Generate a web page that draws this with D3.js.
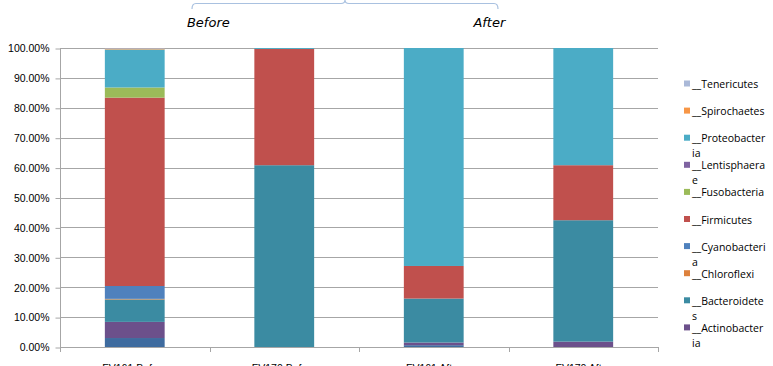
<!DOCTYPE html>
<html>
<head>
<meta charset="utf-8">
<script src="https://cdn.jsdelivr.net/npm/d3@7"></script>
<style>
  body { margin: 0; background: #fff; }
  svg { display: block; }
</style>
</head>
<body>
<div id="chart"></div>
<script>
// samples on the x axis
const samples = ['FV161 Before', 'FV170 Before', 'FV161 After', 'FV170 After'];

// phyla, bottom of the stack first
const phyla = ['__Acidobacteria', '__Actinobacteria', '__Bacteroidetes', '__Chloroflexi', '__Cyanobacteria',
  '__Firmicutes', '__Fusobacteria', '__Lentisphaerae', '__Proteobacteria', '__Spirochaetes', '__Tenericutes'];

// percent per sample (same order as samples)
const acidobacteria  = [3.0, 0, 0.6, 0];
const actinobacteria = [5.4, 0, 0.9, 1.8];
const bacteroidetes  = [7.5, 60.8, 14.7, 40.6];
const chloroflexi    = [0.2, 0, 0, 0];
const cyanobacteria  = [4.3, 0, 0, 0];
const firmicutes     = [63.0, 38.9, 10.9, 18.4];
const fusobacteria   = [3.4, 0, 0, 0];
const lentisphaerae  = [0, 0, 0, 0];
const proteobacteria = [12.7, 0.3, 72.9, 39.2];
const spirochaetes   = [0.3, 0, 0, 0];
const tenericutes    = [0.2, 0, 0, 0];

const seriesValues = [acidobacteria, actinobacteria, bacteroidetes, chloroflexi, cyanobacteria,
  firmicutes, fusobacteria, lentisphaerae, proteobacteria, spirochaetes, tenericutes];

const colors = ['#3e6b9f', '#6c508b', '#3b8ba2', '#dd813c', '#4f81bd',
  '#c0504d', '#9bbb59', '#7f63a1', '#4bacc6', '#f79646', '#aab9d8'];

const yTicks = [0, 10, 20, 30, 40, 50, 60, 70, 80, 90, 100];

// groups shown over the plot
const groups = ['Before', 'After'];

// build table for d3.stack
const table = samples.map((s, i) => {
  const row = { sample: s };
  phyla.forEach((p, j) => { row[p] = seriesValues[j][i]; });
  return row;
});

const W = 773, H = 366;
const svg = d3.select('#chart').append('svg')
  .attr('width', W)
  .attr('height', H);

const x = d3.scaleBand()
  .domain(samples)
  .range([60, 658])
  .paddingInner(0.6)
  .paddingOuter(0.3);

const y = d3.scaleLinear()
  .domain([0, 100])
  .range([347, 48]);

// gridlines
svg.append('g')
  .selectAll('line')
  .data(yTicks.slice(1))
  .enter().append('line')
  .attr('x1', 60)
  .attr('x2', 658)
  .attr('y1', d => Math.round(y(d)) + 0.5)
  .attr('y2', d => Math.round(y(d)) + 0.5)
  .style('stroke', '#a6a6a6');

// left axis
const yAxis = svg.append('g')
  .attr('transform', 'translate(60.5,0.5)')
  .call(d3.axisLeft(y).tickValues(yTicks).tickSize(5).tickPadding(6).tickFormat(d => d.toFixed(2) + '%'));
yAxis.select('.domain').attr('d', `M0,${y(0)}V${y(100)}`).style('stroke', '#a6a6a6');
yAxis.selectAll('.tick line').style('stroke', '#a6a6a6');
yAxis.selectAll('text')
  .style('font-family', '"Liberation Sans", Arial, sans-serif')
  .style('font-size', '10.5px')
  .style('fill', '#000');

// stacked bars
const stack = d3.stack().keys(phyla);
const layers = stack(table);

svg.append('g')
  .selectAll('g')
  .data(layers)
  .enter().append('g')
  .style('fill', (d, i) => colors[i])
  .selectAll('rect')
  .data(d => d)
  .enter().append('rect')
  .attr('x', d => x(d.data.sample))
  .attr('width', x.bandwidth())
  .attr('y', d => y(d[1]))
  .attr('height', d => y(d[0]) - y(d[1]));

// bottom axis with ticks between categories
const bounds = samples.map(s => x(s) - x.step() * x.paddingInner() / 2).concat([658]);
bounds[0] = 60;
const xAxis = svg.append('g');
xAxis.append('line')
  .attr('x1', 60).attr('x2', 658)
  .attr('y1', 347.5).attr('y2', 347.5)
  .style('stroke', '#a6a6a6');
xAxis.selectAll('.xt')
  .data(bounds)
  .enter().append('line')
  .attr('x1', d => Math.round(d) + 0.5)
  .attr('x2', d => Math.round(d) + 0.5)
  .attr('y1', 347)
  .attr('y2', 352)
  .style('stroke', '#a6a6a6');
xAxis.selectAll('text')
  .data(samples)
  .enter().append('text')
  .attr('x', d => x(d) + x.bandwidth() / 2)
  .attr('y', 372)
  .attr('text-anchor', 'middle')
  .style('font-family', '"Liberation Sans", Arial, sans-serif')
  .style('font-size', '10.5px')
  .text(d => d);

// bracket over the groups
svg.append('path')
  .attr('d', 'M192,9 Q192,3.5 196,3.5 L341,3.5 Q345,3.5 345,0 Q345,3.5 349,3.5 L494,3.5 Q498,3.5 498,9')
  .style('fill', 'none')
  .style('stroke', '#a9c1e0')
  .style('stroke-width', 1.2);

// group labels sit left of the second bar of each pair
const groupX = [x(samples[1]) - 46, x(samples[3]) - 64];
svg.selectAll('.grp')
  .data(groups)
  .enter().append('text')
  .attr('x', (d, i) => groupX[i])
  .attr('y', 27)
  .attr('text-anchor', 'middle')
  .style('font-family', '"DejaVu Sans", sans-serif')
  .style('font-style', 'italic')
  .style('font-size', '13px')
  .text(d => d);

// legend (top of stack first, last entry does not fit)
const legendKeys = phyla.slice().reverse().slice(0, 10);
const legend = svg.append('g');
legendKeys.forEach((k, i) => {
  const cy = 84 + i * 27.1;
  const color = colors[phyla.indexOf(k)];
  legend.append('rect')
    .attr('x', 684)
    .attr('y', cy - 3.5)
    .attr('width', 6)
    .attr('height', 6)
    .style('fill', color);
  // break long names every 14 characters
  const lines = k.match(/.{1,14}/g);
  const t = legend.append('text')
    .attr('x', 692)
    .attr('y', cy + 4)
    .style('font-family', '"Open Sans", sans-serif')
    .style('font-size', '10.5px')
    .style('fill', '#000');
  lines.forEach((l, j) => {
    t.append('tspan')
      .attr('x', 692)
      .attr('dy', j === 0 ? 0 : 15)
      .text(l);
  });
});
</script>
</body>
</html>
